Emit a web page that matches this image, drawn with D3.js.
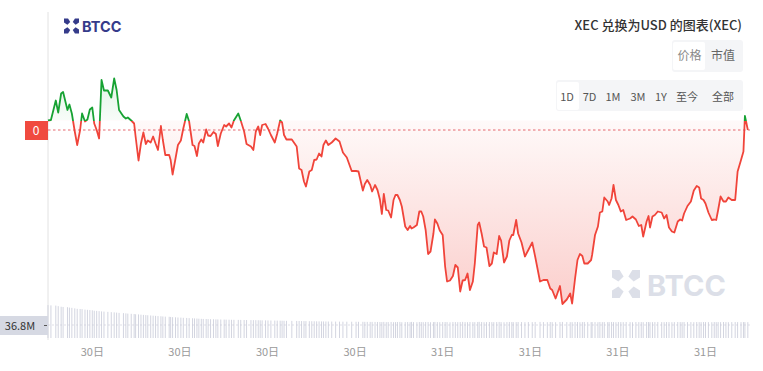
<!DOCTYPE html>
<html>
<head>
<meta charset="utf-8">
<script src="https://cdn.jsdelivr.net/npm/d3@7"></script>
<style>
  body { margin: 0; background: #fff; font-family: "Noto Sans CJK SC", "Noto Sans", sans-serif; }
</style>
</head>
<body>
<script>
// Chart data: XEC/USD, one day, price in 1e-8 USD, volume in millions
var startStamp = "2024-05-30 10:30";
var endStamp = "2024-05-31 10:30";
var tickStamps = ["2024-05-30 12:00", "2024-05-30 15:00", "2024-05-30 18:00", "2024-05-30 21:00",
                  "2024-05-31 00:00", "2024-05-31 03:00", "2024-05-31 06:00", "2024-05-31 09:00"];

// minutes after start for each sample
var priceMinutes = [
  0,6,16,21,27,31,40,44,49,55, 60,66,70,76,81,86,91,95,100,105,
  110,115,123,130,136,141,146,155,160,164, 171,177,180,186,191,196,201,205,211,216,
  221,226,232,236,241,249,252,256,262,267, 273,278,285,290,297,301,306,310,315,319,
  325,329,334,340,345,349,355,362,366,372, 377,382,391,396,403,408,417,422,427,432,
  436,440,447,452,458,466,471,477,481, 485,490,501,511,516,521,526,530,537,542,
  547,552,557,562,566,571,576,583,591,599, 606,614,624,633,638,647,651,656,662,666,
  672,677,682,686,690,695,699,705,710,714, 718,723,727,734,739,744,747,751,758,763,
  767,771,776,781,786,792,795,800,805,811, 816,820,826,832,837,842,847,852,857,862,
  867,873,877,883,886,891,896,901,907,912, 916,922,927,931,937,943,948,953,956,962,
  966, 973,980,987,995,1001,1011,1018,1026,1032,1036,
  1043,1052,1057,1066,1073,1077,1083,1088,1093,1098, 1102,1109,1116,1118,1124,1130,1134,1139,1143,1150,
  1153,1158,1162,1167,1172,1177,1182,1188,1196,1201, 1208,1214,1219,1223,1230,1234,1237,1242,1247,1253,
  1261,1266,1271,1276,1282,1287,1294,1299,1303,1307, 1314,1321,1327,1333,1338,1342,1347,1351,1357,1364,
  1369,1373,1377,1382,1388,1393,1398,1405,1412,1417, 1424,1429,1432,1438
];

var priceE8 = [
  3301,3302,3341,3317,3355,3358,3322,3333,3315,3279, 3252,3282,3315,3299,3303,3323,3327,3295,3282,3265,
  3382,3361,3361,3347,3385,3362,3322,3309,3305,3307, 3301,3295,3269,3221,3255,3277,3254,3261,3257,3269,
  3255,3242,3290,3262,3232,3232,3222,3193,3225,3252, 3261,3285,3314,3299,3252,3250,3230,3255,3263,3257,
  3283,3271,3270,3278,3274,3250,3275,3292,3289,3295, 3287,3301,3315,3301,3279,3254,3249,3242,3279,3289,
  3272,3292,3294,3285,3272,3257,3275,3301,3297, 3272,3263,3263,3249,3205,3202,3179,3169,3199,3202,
  3222,3223,3235,3229,3252,3261,3252,3257,3265,3259, 3237,3227,3200,3200,3199,3161,3174,3182,3172,3159,
  3172,3162,3143,3114,3154,3122,3121,3107,3142,3152, 3152,3142,3129,3089,3082,3090,3085,3087,3092,3119,
  3119,3109,3082,3034,3039,3075,3103,3095,3081,3072, 3009,2979,2981,2990,3012,3007,2959,2981,2982,2995,
  2962,2979,3015,3092,3097,3075,3049,3047,3010,3015, 3037,3034,3070,3061,3017,3029,3061,3072,3072,3102,
  3075, 3057,3029,3042,3057,3029,2979,2982,2982,2965,2962,
  2945,2970,2934,2943,2955,2935,2985,3022,3034,3030, 3015,3015,3022,3032,3072,3089,3117,3119,3147,3139,
  3132,3145,3172,3142,3132,3119,3122,3102,3105,3109, 3103,3090,3092,3069,3099,3110,3087,3109,3112,3119,
  3117,3105,3112,3087,3079,3077,3099,3103,3101,3115, 3130,3139,3161,3170,3167,3145,3142,3135,3117,3102,
  3103,3102,3122,3149,3139,3139,3147,3142,3142,3199, 3222,3239,3310,3282
];

var volumeM = [
  93.1,92.4,91.8,90.2,88.5,87.9,87.2,86.1,85.4,83.9, 82.6,82.1,81.7,80.4,79.8,79.1,78.5,77.2,76.8,76.1,
  75.3,74.8,74.0,73.2,72.6,71.9,71.1,70.4,69.8,69.1, 68.5,67.9,67.2,66.8,66.1,65.5,64.9,64.4,63.8,63.2,
  62.7,62.1,61.6,61.0,60.5,60.1,59.6,59.0,58.6,58.1, 57.7,57.2,56.8,56.3,55.9,55.5,55.1,54.7,54.3,54.0,
  53.8,53.5,53.3,53.1,52.8,52.6,52.4,52.2,52.0,51.8, 51.6,51.5,51.3,51.2,51.0,50.9,50.7,50.6,50.5,50.3,
  50.2,50.0,49.9,49.7,49.6,49.4,49.3,49.1,49.0,48.8, 48.6,48.5,48.3,48.2,48.0,47.9,47.8,47.6,47.5,47.4,
  47.3,47.1,47.0,46.9,46.8,46.7,46.6,46.5,46.4,46.3, 46.2,46.1,46.0,45.9,45.9,45.8,45.7,45.6,45.6,45.5,
  45.4,45.3,45.1,45.6,44.9,45.2,45.4,44.8,45.0,45.3, 45.5,44.7,45.1,45.2,44.9,45.6,45.0,44.8,45.3,45.1,
  44.9,45.4,45.2,44.7,45.0,45.5,45.1,44.8,45.2,45.3, 45.0,44.6,45.4,45.1,44.9,45.2,45.6,45.0,44.8,45.3,
  45.1,44.9,45.4,45.7,45.2,44.8,45.0,45.3,45.1,44.9, 45.2,45.5,45.0,44.7,45.1,45.4,45.2,44.9,45.0,45.3,
  45.1,44.8,45.2,45.0,45.4,45.6,45.1,44.9,45.3,45.0, 44.8,45.2,45.5,45.1,44.9,45.0,45.3,45.2,44.7,45.1,
  45.4,45.0,44.9,45.2,45.1,44.8,45.3,45.0,45.2,44.9, 45.1,45.4,45.0,44.8,45.2,45.1,44.9,45.3,45.0,44.7,
  45.2,45.0,45.1,44.9,45.3,45.2,44.8,45.0,45.1,45.4, 45.0,44.9,45.2,45.1,44.8,45.0,45.3,45.1,44.9,45.2,
  45.0,45.1,44.8,45.3,45.0,44.9,45.2,45.1,45.0,44.8, 45.2,45.0,45.1,44.9,45.3,45.0,44.8,45.1,45.2,45.0,
  44.9,45.1,45.0,44.9
];

var volumeTick = 36.8;
var priceLabel = "0";
var titleText = "XEC 兑换为USD 的图表(XEC)";
var modeLabels = ["价格", "市值"];
var rangeLabels = ["1D", "7D", "1M", "3M", "1Y", "至今", "全部"];

// SVG area
var svgWidth = 763;
var svgHeight = 371;

var svg = d3.select("body")
  .append("svg")
  .attr("width", svgWidth)
  .attr("height", svgHeight);

var parseTime = d3.timeParse("%Y-%m-%d %H:%M");
var startTime = parseTime(startStamp);
var endTime = parseTime(endStamp);

var points = priceMinutes.map((m, i) => ({
  date: new Date(+startTime + m * 60000),
  price: priceE8[i],
  vol: volumeM[i]
}));

// scales
var xTimeScale = d3.scaleTime().domain([startTime, endTime]).range([48, 748.8]);
var yLinearScale = d3.scaleLinear().domain([2850, 3400]).range([346, 71]);
var yVolScale = d3.scaleLinear().domain([0, volumeTick]).range([338, 325]);

var baseY = yLinearScale(points[0].price);
var lastY = yLinearScale(points[points.length - 1].price);

var red = "#f0443a";
var green = "#17a233";

// gradients
var defs = svg.append("defs");
var lineGrad = defs.append("linearGradient")
  .attr("id", "lineGrad").attr("gradientUnits", "userSpaceOnUse")
  .attr("x1", 0).attr("x2", 0).attr("y1", 0).attr("y2", svgHeight);
var off = baseY / svgHeight;
lineGrad.append("stop").attr("offset", 0).attr("stop-color", green);
lineGrad.append("stop").attr("offset", off).attr("stop-color", green);
lineGrad.append("stop").attr("offset", off).attr("stop-color", red);
lineGrad.append("stop").attr("offset", 1).attr("stop-color", red);

var areaGrad = defs.append("linearGradient")
  .attr("id", "areaGrad").attr("gradientUnits", "userSpaceOnUse")
  .attr("x1", 0).attr("x2", 0).attr("y1", 71).attr("y2", 305);
var off2 = (baseY - 71) / (305 - 71);
areaGrad.append("stop").attr("offset", 0).attr("stop-color", green).attr("stop-opacity", 0.14);
areaGrad.append("stop").attr("offset", off2).attr("stop-color", green).attr("stop-opacity", 0.03);
areaGrad.append("stop").attr("offset", off2).attr("stop-color", red).attr("stop-opacity", 0.03);
areaGrad.append("stop").attr("offset", 1).attr("stop-color", red).attr("stop-opacity", 0.26);

// logo helper
function drawLogo(g, cx, cy, s, color) {
  var h = s / 2, w = s * 0.17;
  [[-1, -1], [1, -1], [1, 1], [-1, 1]].forEach(function (d) {
    var ox = d[0], oy = d[1];
    var p = [
      [cx + ox * h, cy + oy * h],
      [cx + ox * (h - w * 1.6), cy + oy * h],
      [cx + ox * w * 0.5, cy + oy * w * 1.6],
      [cx + ox * w * 1.6, cy + oy * w * 0.5],
      [cx + ox * h, cy + oy * (h - w * 1.6)]
    ];
    g.append("path").attr("d", "M" + p.join("L") + "Z").attr("fill", color);
  });
}

// top-left logo
var logo = svg.append("g");
drawLogo(logo, 71.5, 26, 15, "#353b8a");
logo.append("text").attr("x", 82).attr("y", 31.5)
  .attr("font-family", "Inter, 'Open Sans', sans-serif").attr("font-weight", 700)
  .attr("font-size", 14.5).attr("fill", "#353b8a").text("BTCC");

// watermark
var wm = svg.append("g");
drawLogo(wm, 626, 284, 28, "#dcdfe8");
wm.append("text").attr("x", 647).attr("y", 295.5)
  .attr("font-family", "Inter, 'Open Sans', sans-serif").attr("font-weight", 700)
  .attr("font-size", 29).attr("fill", "#dcdfe8").text("BTCC");

// title
svg.append("text").attr("x", 742).attr("y", 30).attr("text-anchor", "end")
  .attr("font-size", 13).attr("font-weight", 500).attr("fill", "#333").text(titleText);

// price / market-cap switch
svg.append("rect").attr("x", 672).attr("y", 40).attr("width", 71).attr("height", 32).attr("rx", 3).attr("fill", "#f4f5f7");
svg.append("rect").attr("x", 673).attr("y", 42).attr("width", 32).attr("height", 28).attr("rx", 2).attr("fill", "#fff");
svg.selectAll(".mode").data(modeLabels).enter().append("text")
  .attr("x", (d, i) => [689.5, 723][i]).attr("y", 60).attr("text-anchor", "middle")
  .attr("font-size", 12).attr("fill", (d, i) => i === 0 ? "#8a8a8a" : "#666").text(d => d);

// range buttons
var rangeX = [567, 589.5, 613, 638, 661, 687, 723];
svg.append("rect").attr("x", 556).attr("y", 80).attr("width", 187).attr("height", 31).attr("rx", 3).attr("fill", "#f4f5f7");
svg.append("rect").attr("x", 557).attr("y", 82).attr("width", 22).attr("height", 28).attr("rx", 2).attr("fill", "#fff");
svg.selectAll(".range").data(rangeLabels).enter().append("text")
  .attr("x", (d, i) => rangeX[i]).attr("y", 101).attr("text-anchor", "middle")
  .attr("font-size", 11).attr("fill", "#555").text(d => d);

// left axis line
svg.append("line").attr("x1", 48).attr("x2", 48).attr("y1", 12).attr("y2", 340)
  .attr("stroke", "#e2e2e2").attr("stroke-width", 1);

// volume bars
svg.append("g").selectAll("rect").data(points).enter().append("rect")
  .attr("x", d => xTimeScale(d.date) - 0.5)
  .attr("width", 1)
  .attr("y", d => yVolScale(d.vol))
  .attr("height", d => yVolScale(0) - yVolScale(d.vol))
  .attr("fill", "#d3d5e0");

svg.append("line").attr("x1", 48).attr("x2", 750).attr("y1", yVolScale(volumeTick)).attr("y2", yVolScale(volumeTick))
  .attr("stroke", "#c9cbd6").attr("stroke-dasharray", "2,2").attr("stroke-width", 0.6);

// area and line
var drawArea = d3.area()
  .x(d => xTimeScale(d.date))
  .y0(baseY)
  .y1(d => yLinearScale(d.price));

svg.append("path").attr("d", drawArea(points)).attr("fill", "url(#areaGrad)");

var drawLine = d3.line()
  .x(d => xTimeScale(d.date))
  .y(d => yLinearScale(d.price));

svg.append("path").attr("d", drawLine(points))
  .attr("fill", "none").attr("stroke", "url(#lineGrad)")
  .attr("stroke-width", 1.8).attr("stroke-linejoin", "round");

// last price line + label
svg.append("line").attr("x1", 48).attr("x2", 750).attr("y1", lastY).attr("y2", lastY)
  .attr("stroke", "#e0444c").attr("stroke-width", 0.8).attr("stroke-dasharray", "2.5,2.5");
svg.append("rect").attr("x", 25).attr("y", lastY - 9).attr("width", 23).attr("height", 19).attr("fill", "#f04a3f");
svg.append("text").attr("x", 36).attr("y", lastY + 4.5).attr("text-anchor", "middle")
  .attr("font-size", 12).attr("fill", "#fff").text(priceLabel);

// volume label
var volY = yVolScale(volumeTick);
svg.append("rect").attr("x", 0).attr("y", volY - 9).attr("width", 48).attr("height", 19).attr("fill", "#d6d9e3");
svg.append("line").attr("x1", 44).attr("x2", 47).attr("y1", volY + 0.5).attr("y2", volY + 0.5).attr("stroke", "#555");
svg.append("text").attr("x", 20).attr("y", volY + 4.5).attr("text-anchor", "middle")
  .attr("font-size", 11).attr("fill", "#333").text(d3.format(".1f")(volumeTick) + "M");

// bottom axis
var bottomAxis = d3.axisBottom(xTimeScale)
  .tickValues(tickStamps.map(parseTime))
  .tickFormat(d3.timeFormat("%d日"))
  .tickSize(0).tickPadding(3);

var xAxis = svg.append("g").attr("transform", "translate(0, 345)").call(bottomAxis);
xAxis.select(".domain").remove();
xAxis.selectAll("text").attr("fill", "#9a9a9a").attr("font-size", 11)
  .attr("font-family", "'Noto Sans CJK SC', sans-serif");
</script>
</body>
</html>
